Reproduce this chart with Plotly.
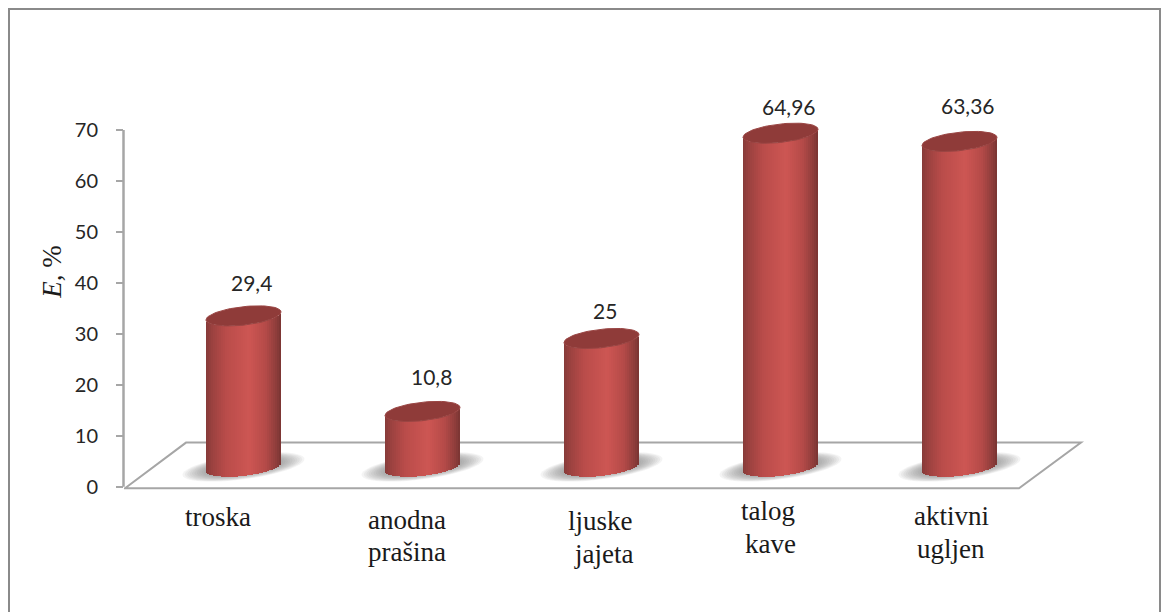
import math
import plotly.graph_objects as go

# ---- data ----
categories = ["troska", "anodna<br>prašina", "ljuske<br>jajeta", "talog<br>kave", "aktivni<br>ugljen"]
values = [29.4, 10.8, 25, 64.96, 63.36]
value_labels = ["29,4", "10,8", "25", "64,96", "63,36"]
y_ticks = [0, 10, 20, 30, 40, 50, 60, 70]

# ---- placement of labels (pixels) ----
label_dx = [8, 8.5, 3, 8, 8]
label_dy = [33, 35, 27.5, 27, 36]
cat_x = [[218], [407, 407], [600, 603.5], [768, 770.5], [951.5, 950.7]]
cat_base = [[529.3], [531.7, 564], [533.3, 566], [523.3, 555.7], [528, 560.7]]

# ---- geometry (pixels of the 1161x612 picture) ----
W, H = 1161, 612
PX_X0, PX_DX = 243.5, 179       # first cylinder centre, spacing
PX_Y0, PX_DY = 490, 5.13        # value 0 line, pixels per unit
L, R, T, B = 124, 1085, 118, 497
A, TILT, Bb = 37.5, 4, 9.3      # cylinder half width, ellipse tilt & half height
DEPTH = 3.9                     # floor offset of the cylinder axis (value units)
PERSP = 1.008


def xd(px):
    return (px - PX_X0) / PX_DX


def yd(py):
    return (PX_Y0 - py) / PX_DY


STOPS = [(0.0, (132, 58, 56)), (0.10, (156, 66, 64)), (0.28, (186, 76, 74)),
         (0.58, (205, 86, 83)), (0.80, (180, 74, 72)), (0.93, (144, 62, 60)), (1.0, (120, 52, 50))]


def shade(f):
    for (f0, c0), (f1, c1) in zip(STOPS, STOPS[1:]):
        if f <= f1:
            k = (f - f0) / (f1 - f0)
            return "rgb(%d,%d,%d)" % tuple(round(a + (b - a) * k) for a, b in zip(c0, c1))
    return "rgb(120,52,50)"


def front(u):
    return (-TILT * u + Bb * math.sqrt(max(0, 1 - u * u))) / PX_DY


N = 38
sx, sy, sb, sc = [], [], [], []
for i, v in enumerate(values):
    top = v * PERSP + DEPTH
    for p in range(N):
        f = (p + 0.5) / N
        u = 2 * f - 1
        low = DEPTH - front(u)
        sx.append(i + u * A / PX_DX)
        sb.append(low)
        sy.append(top - front(u) - low)
        sc.append(shade(f))

fig = go.Figure()
fig.add_trace(go.Bar(x=sx, y=sy, base=sb, width=2 * A / N / PX_DX,
                     marker=dict(color=sc, line=dict(width=0)),
                     hoverinfo="skip", showlegend=False))

# top caps
for i, v in enumerate(values):
    top = v * PERSP + DEPTH
    xs, ys = [], []
    for k in range(73):
        t = 2 * math.pi * k / 72
        xs.append(i + A * math.cos(t) / PX_DX)
        ys.append(top + (TILT * math.cos(t) + Bb * math.sin(t)) / PX_DY)
    fig.add_trace(go.Scatter(x=xs, y=ys, mode="lines", fill="toself", fillcolor="#8f3b39",
                             line=dict(color="#9a4644", width=1), hoverinfo="skip", showlegend=False))

shapes = []


def poly(pts):
    return "M " + " L ".join(f"{x:.4f},{y:.4f}" for x, y in pts) + " Z"


# floor
floor = [(125, 491.5), (186, 445.5), (1081, 445.5), (1019, 491.5)]
shapes.append(dict(type="path", xref="x", yref="y", layer="below",
                   path=poly([(xd(x), yd(y)) for x, y in floor]),
                   line=dict(color="#a6a6a6", width=2), fillcolor="white"))

# soft floor shadows
for i in range(len(values)):
    for s in range(10):
        ax = 61 - 2.4 * s
        by = 12.5 - 0.5 * s
        pts = []
        for k in range(48):
            t = 2 * math.pi * k / 48
            ex = ax * math.cos(t)
            ey = by * math.sin(t) - 0.13 * ex
            pts.append((i + ex / PX_DX, DEPTH + (-ey) / PX_DY))
        shapes.append(dict(type="path", xref="x", yref="y", layer="below", path=poly(pts),
                           line=dict(width=0), fillcolor="rgba(120,120,120,0.08)"))

# value axis line
shapes.append(dict(type="line", xref="paper", yref="y", x0=(L - 0.5) / W, x1=(L - 0.5) / W,
                   y0=y_ticks[0], y1=y_ticks[-1], line=dict(color="#a6a6a6", width=2.5)))
# outer frame
shapes.append(dict(type="rect", xref="paper", yref="paper", x0=9 / W, x1=1160 / W, y0=-0.05, y1=1 - 9 / H,
                   line=dict(color="#8a8a8a", width=2), fillcolor="rgba(0,0,0,0)"))

ann = []
for i, v in enumerate(values):
    top = v * PERSP + DEPTH
    ann.append(dict(x=i, y=top, xref="x", yref="y", text=value_labels[i], showarrow=False,
                    xshift=label_dx[i], yshift=label_dy[i], xanchor="center", yanchor="middle",
                    font=dict(family="Lato", size=21, color="#262626")))
    for j, line in enumerate(categories[i].split("<br>")):
        ann.append(dict(x=cat_x[i][j] / W, y=1 - (cat_base[i][j] - 8.5) / H, xref="paper", yref="paper",
                        text=line, showarrow=False, xanchor="center", yanchor="middle", align="center",
                        font=dict(family="Liberation Serif", size=27, color="#1a1a1a")))
ann.append(dict(x=52 / W, y=1 - 273.5 / H, xref="paper", yref="paper", text="<i>E,</i> %", textangle=-90,
                showarrow=False, xanchor="center", yanchor="middle",
                font=dict(family="Liberation Serif", size=27, color="#1a1a1a")))

fig.update_layout(
    width=W, height=H, margin=dict(l=0, r=0, t=0, b=0, pad=0),
    paper_bgcolor="white", plot_bgcolor="rgba(0,0,0,0)",
    barmode="overlay", bargap=0, showlegend=False,
    shapes=shapes, annotations=ann,
    xaxis=dict(domain=[L / W, R / W], range=[xd(L), xd(R)], showgrid=False, zeroline=False,
               showticklabels=False, ticks="", showline=False, fixedrange=True),
    yaxis=dict(domain=[1 - B / H, 1 - T / H], range=[yd(B), yd(T)], showgrid=False, zeroline=False,
               tickmode="array", tickvals=y_ticks, ticktext=[str(t) for t in y_ticks],
               ticks="outside", ticklen=7, tickwidth=2, tickcolor="#a6a6a6", showline=False,
               ticklabelstandoff=14, tickfont=dict(family="Lato", size=20, color="#262626"), fixedrange=True),
)
fig.write_html("out.html", config={"displayModeBar": False},
               post_script="document.body.style.margin='0';document.body.style.overflow='hidden';")
